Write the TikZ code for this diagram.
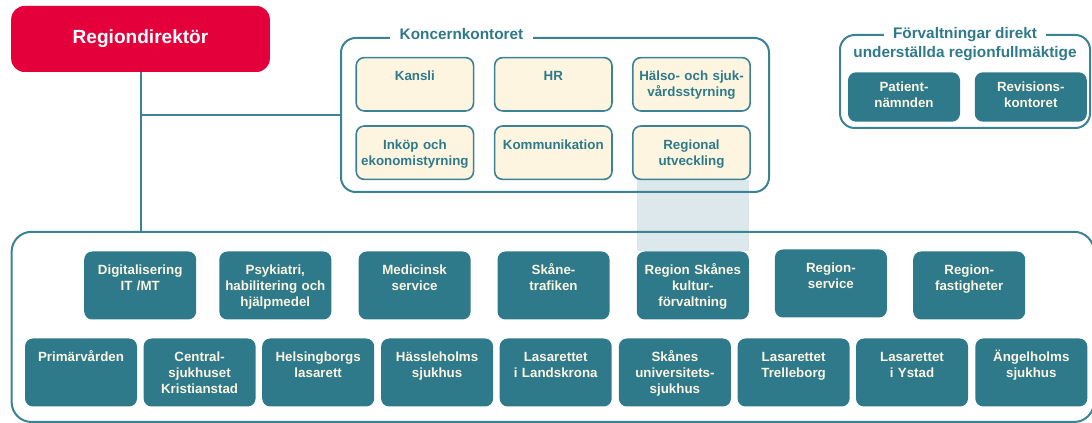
\documentclass[tikz,border=0pt]{standalone}
\usepackage{fontspec}
\setmainfont{Liberation Sans}
\usetikzlibrary{backgrounds}
\definecolor{rsred}{HTML}{E4003A}
\definecolor{rsteal}{HTML}{2E7A8A}
\definecolor{rsline}{HTML}{3B8294}
\definecolor{rscream}{HTML}{FDF5E0}
\definecolor{rslight}{HTML}{FBF4E2}
\definecolor{rsband}{HTML}{DCE8EC}
\tikzstyle{link}=[draw=rsline,line width=1.5pt]
\tikzstyle{frame}=[rectangle,draw=rsline,line width=1.5pt,rounded corners=11pt,inner sep=0pt]
\tikzstyle{frametitle}=[fill=white,text=rsteal,inner xsep=7pt,inner ysep=1pt,font=\bfseries\fontsize{11.5}{13.8}\selectfont]
\tikzstyle{boss}=[rectangle,fill=rsred,text=white,rounded corners=10pt,minimum width=194pt,minimum height=49.5pt,font=\bfseries\fontsize{14.3}{17}\selectfont]
\tikzstyle{staff}=[rectangle,draw=rsline,line width=1.2pt,fill=rscream,text=rsteal,rounded corners=6pt,text width=84pt,align=center,inner xsep=2pt,inner ysep=0pt,text height=17.5pt,text depth=22.5pt,font=\bfseries\fontsize{10}{12}\selectfont]
\tikzstyle{unit}=[rectangle,fill=rsteal,text=rslight,rounded corners=6pt,text width=80pt,align=center,inner xsep=2pt,inner ysep=0pt,text height=17.5pt,text depth=33.5pt,font=\bfseries\fontsize{10}{12}\selectfont]
\tikzstyle{board}=[unit,text height=14.5pt,text depth=22.5pt]

\begin{document}
\begin{tikzpicture}[x=0.75pt,y=-0.75pt]
    \useasboundingbox (0,0) rectangle (1092,423);
    \node (rd) at (140.5,39) [boss] {Regiondirektör};

    \node (kk) at (555,115) [frame,minimum width=321pt,minimum height=115.5pt] {};
    \node (kktitle) at (461.5,34.5) [frametitle] {Koncernkontoret};
    \node (kansli) at (414.9,84.3) [staff] {Kansli};
    \node (hr) at (553.3,84.3) [staff] {HR};
    \node (hs) at (691.5,84.3) [staff] {Hälso- och sjuk-\\vårdsstyrning};
    \node (inkop) at (414.9,152.7) [staff] {Inköp och\\ekonomistyrning};
    \node (komm) at (553.3,152.7) [staff] {Kommunikation};
    \node (ru) at (691.5,152.7) [staff] {Regional\\utveckling};

    \node (fv) at (965,81.5) [frame,minimum width=187.5pt,minimum height=69.75pt] {};
    \node (fvtitle) at (965,35) [frametitle] {Förvaltningar direkt};
    \node (fvsub) at (965,53.3) [frametitle,fill=none] {underställda regionfullmäktige};
    \node (pn) at (904,97) [board] {Patient-\\nämnden};
    \node (rev) at (1030.8,97) [board] {Revisions-\\kontoret};

    \node (all) at (552.8,326.9) [frame,rounded corners=15pt,minimum width=811.8pt,minimum height=142.65pt] {};
    \node (dig) at (140.2,285.5) [unit] {Digitalisering\\IT /MT};
    \node (psy) at (275.3,285.5) [unit] {Psykiatri,\\habilitering och\\hjälpmedel};
    \node (med) at (414.6,285.5) [unit] {Medicinsk\\service};
    \node (skt) at (553.5,285.5) [unit] {Skåne-\\trafiken};
    \node (rsk) at (692.8,285.5) [unit] {Region Skånes\\kultur-\\förvaltning};
    \node (rserv) at (830.9,283.5) [unit] {Region-\\service};
    \node (rfast) at (969.2,285.5) [unit] {Region-\\fastigheter};

    \node (prim) at (81,372.5) [unit] {Primärvården};
    \node (cskr) at (199.6,372.5) [unit] {Central-\\sjukhuset\\Kristianstad};
    \node (hbg) at (318.2,372.5) [unit] {Helsingborgs\\lasarett};
    \node (hlm) at (437.1,372.5) [unit] {Hässleholms\\sjukhus};
    \node (lkr) at (555.7,372.5) [unit] {Lasarettet\\i Landskrona};
    \node (sus) at (674.9,372.5) [unit] {Skånes\\universitets-\\sjukhus};
    \node (tbg) at (793.6,372.5) [unit] {Lasarettet\\Trelleborg};
    \node (ystad) at (912,372.5) [unit] {Lasarettet\\i Ystad};
    \node (angel) at (1031.3,372.5) [unit] {Ängelholms\\sjukhus};

    \draw [link] (rd.south) -- (rd.south |- all.north);
    \draw [link] (rd.south |- kk.west) -- (kk.west);

    \begin{scope}[on background layer]
        \fill [rsband] (rsk.north west) rectangle (ru.south -| rsk.east);
    \end{scope}
\end{tikzpicture}
\end{document}
